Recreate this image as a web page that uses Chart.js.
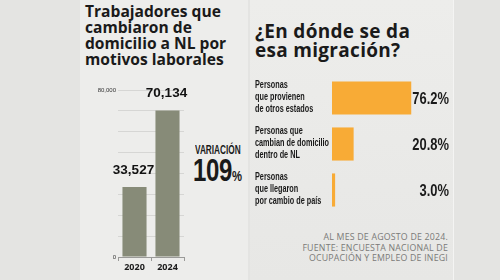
<!DOCTYPE html>
<html>
<head>
<meta charset="utf-8">
<script src="https://cdn.jsdelivr.net/npm/chart.js@4"></script>
<style>
  html, body { margin: 0; padding: 0; }
  body { width: 500px; height: 280px; position: relative; overflow: hidden; background: #e4e4e2; font-family: 'Open Sans', sans-serif; color: #1a1a1a; }
  .panel { position: absolute; top: 0; height: 280px; }
  #pLeft { left: 80px; width: 168px; background: #ededeb; }
  #pRight { left: 250px; width: 203px; background: linear-gradient(#ededeb, #e7e7e5); border-right: 1px solid #f4f4f3; }
  .abs { position: absolute; white-space: nowrap; }
  #t1 { left: 85px; top: 3px; font-size: 15.6px; line-height: 16px; font-weight: 700; }
  #t2 { left: 255px; top: 22px; font-size: 19px; line-height: 18.5px; font-weight: 700; letter-spacing: 0.3px; }
  .cond { font-family: 'Liberation Sans', Arial, sans-serif; font-weight: 700; transform-origin: left top; }
  #var { left: 195px; top: 143px; font-size: 12.5px; transform: scaleX(0.66); }
  #pct { left: 193px; top: 154px; font-size: 32px; line-height: 32px; transform: scaleX(0.75); letter-spacing: -0.5px; }
  #pct span { font-size: 15px; letter-spacing: 0; }
  #src { right: 52px; top: 232px; text-align: right; color: #7a7a78; font-size: 8.8px; line-height: 10.5px; font-weight: 400; letter-spacing: 0.2px; }
  .box { position: absolute; }
</style>
</head>
<body>
<div class="panel" id="pLeft"></div>
<div class="panel" id="pRight"></div>
<div class="abs" id="t1">Trabajadores que<br>cambiaron de<br>domicilio a NL por<br>motivos laborales</div>
<div class="abs" id="t2">¿En dónde se da<br>esa migración?</div>
<div class="abs cond" id="var">VARIACIÓN</div>
<div class="abs cond" id="pct">109<span>%</span></div>
<div class="abs" id="src">AL MES DE AGOSTO DE 2024.<br>FUENTE: ENCUESTA NACIONAL DE<br>OCUPACIÓN Y EMPLEO DE INEGI</div>
<div class="box" style="left:95px;top:78px;width:100px;height:202px"><canvas id="c1"></canvas></div>
<div class="box" style="left:250px;top:70px;width:205px;height:145px"><canvas id="c2"></canvas></div>
<script>
const years = ['2020', '2024'];
const workers = [33527, 70134];
const yLabels = [0, 80000];

const places = [
    ['Personas', 'que provienen', 'de otros estados'],
    ['Personas que', 'cambian de domicilio', 'dentro de NL'],
    ['Personas', 'que llegaron', 'por cambio de país']
];
const shares = [76.2, 20.8, 3.0];

const sans = "'Liberation Sans', Arial, sans-serif";

// labels over the gray bars
const barValues = {
    id: 'barValues',
    afterDatasetsDraw(chart) {
        const { ctx } = chart;
        ctx.save();
        ctx.font = '900 13.5px ' + sans;
        ctx.fillStyle = '#111';
        ctx.textAlign = 'center';
        ctx.textBaseline = 'middle';
        chart.getDatasetMeta(0).data.forEach((bar, i) => {
            ctx.fillText(workers[i].toLocaleString('en-US'), bar.x - 1, bar.y - 17);
        });
        ctx.restore();
    }
};

// condensed category labels + percentages for the orange bars
const placeText = {
    id: 'placeText',
    afterDatasetsDraw(chart) {
        const { ctx } = chart;
        const yScale = chart.scales.y;
        const x0 = yScale.left;
        ctx.save();
        ctx.fillStyle = '#1a1a1a';
        ctx.textBaseline = 'middle';
        chart.data.labels.forEach((lines, i) => {
            const yc = yScale.getPixelForTick(i);
            ctx.save();
            ctx.translate(x0, 0);
            ctx.scale(0.7, 1);
            ctx.font = '700 10.4px ' + sans;
            ctx.textAlign = 'left';
            lines.forEach((ln, j) => ctx.fillText(ln, 0, yc - 1 + (j - 1) * 12));
            ctx.restore();

            ctx.save();
            ctx.translate(chart.width - 6, 0);
            ctx.scale(0.76, 1);
            ctx.font = '700 17px ' + sans;
            ctx.textAlign = 'right';
            ctx.fillText(shares[i].toFixed(1) + '%', 0, yc + 1);
            ctx.restore();
        });
        ctx.restore();
    }
};

new Chart(document.getElementById('c1'), {
    type: 'bar',
    data: {
        labels: years,
        datasets: [{
            data: workers,
            backgroundColor: '#878b78',
            barPercentage: 0.73,
            categoryPercentage: 1
        }]
    },
    options: {
        responsive: true,
        maintainAspectRatio: false,
        animation: false,
        layout: { padding: { top: 12, right: 11, left: 0, bottom: 0 } },
        plugins: { legend: { display: false }, tooltip: { enabled: false } },
        scales: {
            x: {
                afterFit: (s) => { s.height = 23; },
                grid: { offset: true, drawOnChartArea: false, drawTicks: true, tickLength: 4, color: '#9a9a98' },
                border: { display: true, color: '#9a9a98' },
                ticks: { color: '#1a1a1a', padding: 1, font: { family: "'Noto Sans', sans-serif", size: 9, weight: 'bold' } }
            },
            y: {
                min: 0,
                max: 80000,
                afterFit: (s) => { s.width = 23; },
                grid: { color: '#d6d6d4', drawTicks: false },
                border: { display: false },
                ticks: {
                    stepSize: 10000,
                    padding: 2,
                    color: '#333',
                    font: { family: sans, size: 6 },
                    callback: (v) => yLabels.includes(v) ? v.toLocaleString('en-US') : ''
                }
            }
        }
    },
    plugins: [barValues]
});

new Chart(document.getElementById('c2'), {
    type: 'bar',
    data: {
        labels: places,
        datasets: [{
            data: shares,
            backgroundColor: '#f8ab36',
            barPercentage: 0.72,
            categoryPercentage: 1
        }]
    },
    options: {
        indexAxis: 'y',
        responsive: true,
        maintainAspectRatio: false,
        animation: false,
        layout: { padding: { top: 5, right: 19, left: 5, bottom: 2 } },
        plugins: { legend: { display: false }, tooltip: { enabled: false } },
        scales: {
            x: { display: false, min: 0, max: 100 },
            y: {
                afterFit: (s) => { s.width = 77; },
                grid: { display: false },
                border: { display: false },
                ticks: { display: false }
            }
        }
    },
    plugins: [placeText]
});
</script>
</body>
</html>
